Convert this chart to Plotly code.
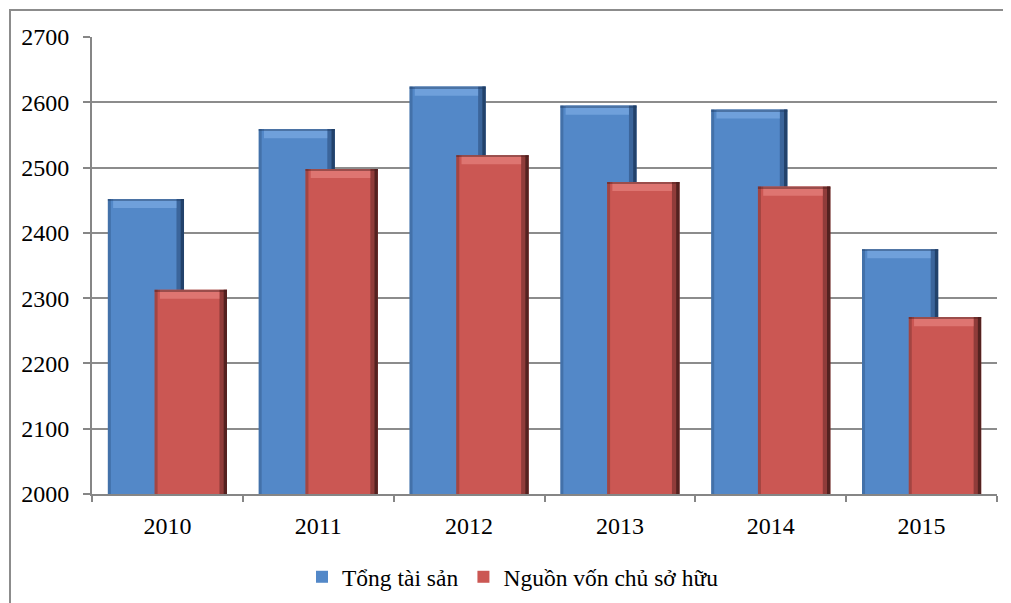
import plotly.graph_objects as go

years = ["2010", "2011", "2012", "2013", "2014", "2015"]
tong_tai_san = [2452, 2559, 2624, 2595, 2589, 2375]
nguon_von = [2313, 2498, 2519, 2478, 2471, 2271]
series_names = ["Tổng tài sản", "Nguồn vốn chủ sở hữu"]
y_ticks = [2000, 2100, 2200, 2300, 2400, 2500, 2600, 2700]

BLUE = "#5388C8"
BLUE_DARK = "#1F3C63"
BLUE_LIGHT = "#78A8E2"
RED = "#CB5753"
RED_DARK = "#4A1D1C"
RED_LIGHT = "#E47F7B"

FONT = "Liberation Serif, Times New Roman, Times, serif"

fig = go.Figure()


def add_series(values, name, offset, width, base_col, dark, light):
    fig.add_trace(go.Bar(
        x=years, y=values, name=name, offset=offset, width=width,
        marker=dict(color=base_col, line=dict(width=0)),
        showlegend=True,
    ))
    fig.add_trace(go.Bar(
        x=years, y=values, offset=offset + width - 0.05, width=0.05,
        marker=dict(color=dark, opacity=0.45, line=dict(width=0)),
        showlegend=False, hoverinfo="skip",
    ))
    fig.add_trace(go.Bar(
        x=years, y=values, offset=offset + width - 0.022, width=0.022,
        marker=dict(color=dark, opacity=0.85, line=dict(width=0)),
        showlegend=False, hoverinfo="skip",
    ))
    fig.add_trace(go.Bar(
        x=years, y=values, offset=offset, width=0.02,
        marker=dict(color=dark, opacity=0.3, line=dict(width=0)),
        showlegend=False, hoverinfo="skip",
    ))
    cap = 14
    fig.add_trace(go.Bar(
        x=years, y=[cap] * len(values), base=[v - cap for v in values],
        offset=offset + 0.035, width=width - 0.085,
        marker=dict(color=light, opacity=0.75, line=dict(width=0)),
        showlegend=False, hoverinfo="skip",
    ))
    fig.add_trace(go.Bar(
        x=years, y=[2.5] * len(values), base=[v - 2.5 for v in values],
        offset=offset, width=width,
        marker=dict(color=dark, opacity=0.45, line=dict(width=0)),
        showlegend=False, hoverinfo="skip",
    ))


add_series(tong_tai_san, series_names[0], -0.395, 0.505, BLUE, BLUE_DARK, BLUE_LIGHT)
add_series(nguon_von, series_names[1], -0.085, 0.48, RED, RED_DARK, RED_LIGHT)

fig.update_layout(
    width=1003, height=595,
    margin=dict(l=84, r=14, t=29, b=109, autoexpand=False),
    paper_bgcolor="white", plot_bgcolor="white",
    barmode="overlay",
    font=dict(family=FONT, size=24, color="black"),
    legend=dict(
        orientation="h", xref="container", yref="container",
        x=0.5035, xanchor="center", y=0.0437, yanchor="middle",
        font=dict(family=FONT, size=23.5),
        traceorder="normal", itemwidth=30,
    ),
    shapes=[dict(
        type="rect", xref="paper", yref="paper",
        x0=-0.0906, x1=1.05, y0=-0.3, y1=1.059,
        line=dict(color="#8C8C8C", width=2), layer="below",
    )],
)

fig.update_xaxes(
    type="category", showline=True, linecolor="#868686", linewidth=2,
    ticks="outside", ticklen=6, tickcolor="#868686", tickwidth=2,
    tickson="boundaries", showgrid=False, ticklabelstandoff=9,
    tickfont=dict(family=FONT, size=24),
)
fig.update_yaxes(
    range=[2000, 2700], tickvals=y_ticks,
    showline=True, linecolor="#868686", linewidth=2,
    ticks="outside", ticklen=7, tickcolor="#868686", tickwidth=2,
    showgrid=True, gridcolor="#8C8C8C", gridwidth=2,
    zeroline=False, ticklabelstandoff=9,
    tickfont=dict(family=FONT, size=24),
)

fig.write_html("out.html")
